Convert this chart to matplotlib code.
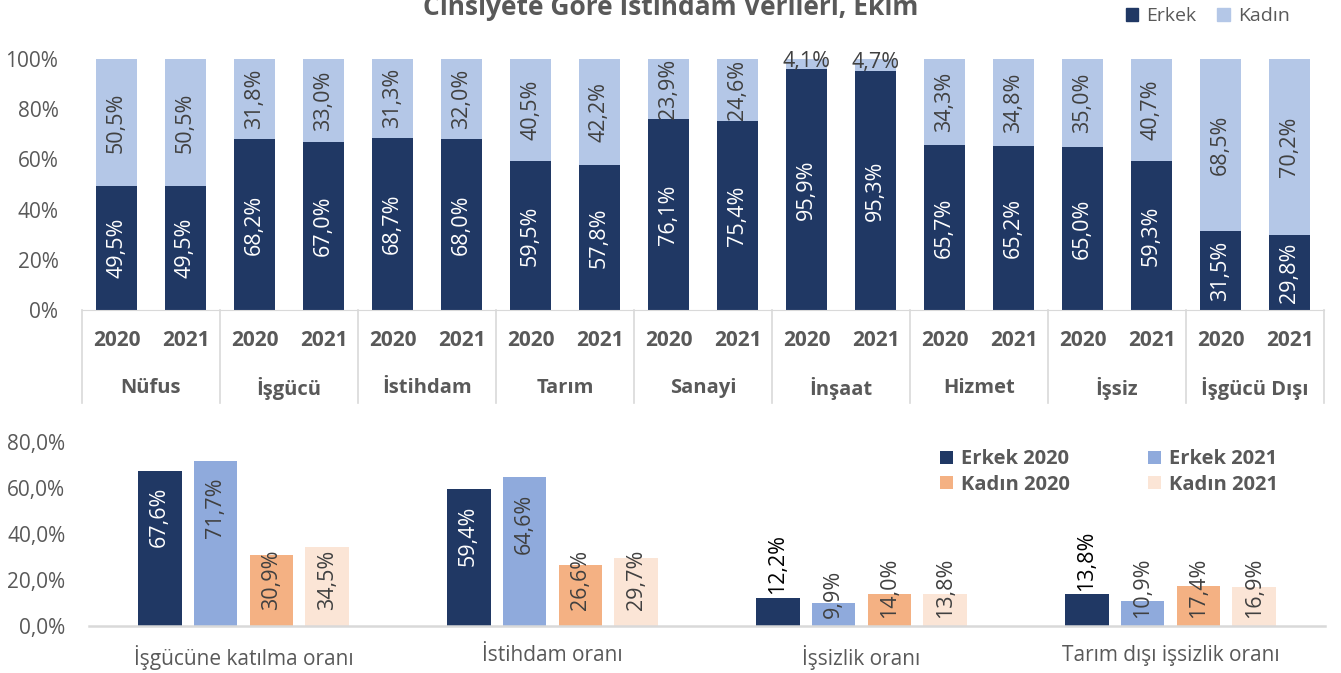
import matplotlib
matplotlib.use('Agg')
import matplotlib.pyplot as plt
import matplotlib.transforms as mtransforms
from matplotlib.patches import Patch

plt.rcParams['font.family'] = ['Open Sans', 'DejaVu Sans']

# top chart data (share of men / women, %)
categories = ['Nüfus', 'İşgücü', 'İstihdam', 'Tarım', 'Sanayi', 'İnşaat', 'Hizmet', 'İşsiz', 'İşgücü Dışı']
years = ['2020', '2021']
erkek = [49.5, 49.5, 68.2, 67.0, 68.7, 68.0, 59.5, 57.8, 76.1, 75.4, 95.9, 95.3, 65.7, 65.2, 65.0, 59.3, 31.5, 29.8]
kadin = [50.5, 50.5, 31.8, 33.0, 31.3, 32.0, 40.5, 42.2, 23.9, 24.6, 4.1, 4.7, 34.3, 34.8, 35.0, 40.7, 68.5, 70.2]

# bottom chart data (rates, %)
rates = ['İşgücüne katılma oranı', 'İstihdam oranı', 'İşsizlik oranı', 'Tarım dışı işsizlik oranı']
series_names = ['Erkek 2020', 'Erkek 2021', 'Kadın 2020', 'Kadın 2021']
erkek_2020 = [67.6, 59.4, 12.2, 13.8]
erkek_2021 = [71.7, 64.6, 9.9, 10.9]
kadin_2020 = [30.9, 26.6, 14.0, 17.4]
kadin_2021 = [34.5, 29.7, 13.8, 16.9]

NAVY = '#203864'
LIGHT = '#B4C7E7'
MID = '#8FAADC'
ORANGE = '#F4B183'
PEACH = '#FBE5D6'
GRAY = '#595959'
DARK = '#404040'
LINE = '#D9D9D9'
LBL = 15.5  # bar label size


def pct(v):
    return f'{v:.1f}'.replace('.', ',') + '%'


W, H = 1341, 673
fig = plt.figure(figsize=(W / 100, H / 100), dpi=100)

# ---------------- top stacked chart ----------------
ax = fig.add_axes([82 / W, (H - 310) / H, 1242 / W, 251 / H])
x = list(range(len(erkek)))
ax.bar(x, erkek, width=0.58, color=NAVY, zorder=2)
ax.bar(x, kadin, width=0.58, bottom=erkek, color=LIGHT, zorder=2)

for i in x:
    ax.text(i, erkek[i] / 2, pct(erkek[i]), rotation=90, ha='center', va='center',
            color='white', fontsize=LBL)
    if kadin[i] < 10:
        ax.text(i, erkek[i] - 1, pct(kadin[i]), ha='center', va='bottom',
                color=DARK, fontsize=LBL)
    else:
        ax.text(i, erkek[i] + kadin[i] / 2, pct(kadin[i]), rotation=90, ha='center',
                va='center', color=DARK, fontsize=LBL)

ax.set_xlim(-0.5, len(erkek) - 0.5)
ax.set_ylim(0, 100)
ax.set_yticks([0, 20, 40, 60, 80, 100])
ax.set_yticklabels([f'{t}%' for t in range(0, 101, 20)])
ax.set_xticks([])
ax.tick_params(axis='y', length=0, pad=17, labelsize=15, labelcolor=GRAY)
for s in ['top', 'right', 'left']:
    ax.spines[s].set_visible(False)
ax.spines['bottom'].set_color(LINE)

# two level category axis
trans = mtransforms.blended_transform_factory(ax.transData, ax.transAxes)
for i in x:
    ax.text(i, -31 / 251, years[i % 2], transform=trans, ha='center', va='center',
            fontsize=15, fontweight='bold', color=GRAY)
for g, name in enumerate(categories):
    ax.text(2 * g + 0.5, -78 / 251, name, transform=trans, ha='center', va='center',
            fontsize=14.5, fontweight='bold', color=GRAY)
for g in range(len(categories) + 1):
    ax.plot([2 * g - 0.5, 2 * g - 0.5], [0, -93 / 251], transform=trans, color=LINE,
            lw=1.2, clip_on=False)

fig.text(0.5, 1 - 15 / H, 'Cinsiyete Göre İstihdam Verileri, Ekim', ha='center',
         va='baseline', fontsize=19, fontweight='bold', color=GRAY)
fig.legend(handles=[Patch(color=NAVY, label='Erkek'), Patch(color=LIGHT, label='Kadın')],
           loc='center left', bbox_to_anchor=(1108 / W, 1 - 16 / H), ncol=2, frameon=False,
           fontsize=14, handlelength=0.65, handleheight=0.65, handletextpad=0.4,
           columnspacing=1.1, labelcolor=GRAY)

# ---------------- bottom grouped chart ----------------
bx = fig.add_axes([89 / W, (H - 626) / H, 1236 / W, 184 / H])
series = [erkek_2020, erkek_2021, kadin_2020, kadin_2021]
colors = [NAVY, MID, ORANGE, PEACH]
offsets = [-1.5, -0.5, 0.5, 1.5]
for k, vals in enumerate(series):
    pos = [g + 0.5 + offsets[k] * 0.181 for g in range(len(rates))]
    bx.bar(pos, vals, width=0.142, color=colors[k], label=series_names[k], zorder=2)
    for p, v in zip(pos, vals):
        if v >= 50:
            bx.text(p, v - 7, pct(v), rotation=90, ha='center', va='top', fontsize=LBL,
                    color='white' if k == 0 else DARK)
        elif v >= 20:
            bx.text(p, 7, pct(v), rotation=90, ha='center', va='bottom', fontsize=LBL,
                    color=DARK)
        elif k == 0:
            bx.text(p, v + 1.5, pct(v), rotation=90, ha='center', va='bottom',
                    fontsize=LBL, color='black')
        else:
            bx.text(p, 3.5, pct(v), rotation=90, ha='center', va='bottom', fontsize=LBL,
                    color=DARK)

bx.set_xlim(0, len(rates))
bx.set_ylim(0, 80)
bx.set_yticks([0, 20, 40, 60, 80])
bx.set_yticklabels([f'{t},0%' for t in range(0, 81, 20)])
bx.set_xticks([g + 0.5 for g in range(len(rates))])
bx.set_xticklabels(rates)
bx.tick_params(axis='y', length=0, pad=17, labelsize=15, labelcolor=GRAY)
bx.tick_params(axis='x', length=0, pad=14, labelsize=15, labelcolor=GRAY)
for s in ['top', 'right', 'left']:
    bx.spines[s].set_visible(False)
bx.spines['bottom'].set_color(LINE)
bx.spines['bottom'].set_linewidth(1.8)

handles, labels = bx.get_legend_handles_labels()
order = [0, 2, 1, 3]
leg = bx.legend([handles[i] for i in order], [labels[i] for i in order], ncol=2,
                loc='center left', bbox_to_anchor=(922 / W, 1 - 472 / H),
                bbox_transform=fig.transFigure, frameon=False, fontsize=14.5,
                handlelength=0.65, handleheight=0.65, handletextpad=0.4,
                columnspacing=3.85, labelspacing=0.25, labelcolor=GRAY)
for t in leg.get_texts():
    t.set_fontweight('bold')

fig.savefig('out.png', dpi=100)
